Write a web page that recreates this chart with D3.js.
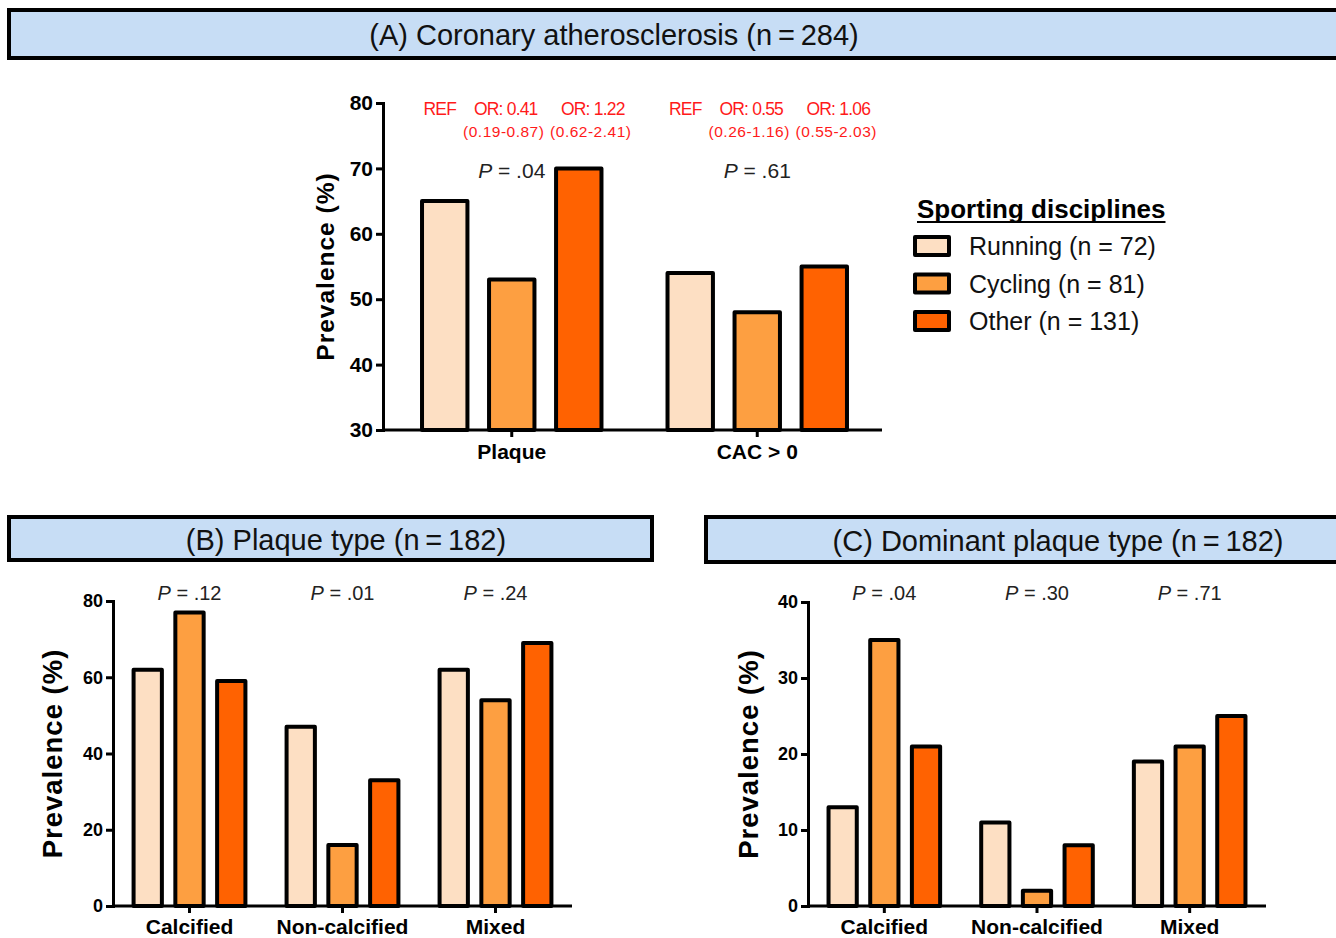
<!DOCTYPE html>
<html>
<head>
<meta charset="utf-8">
<script src="https://cdn.jsdelivr.net/npm/d3@7/dist/d3.min.js"></script>
<style>
  html, body { margin: 0; padding: 0; background: #fff; }
  svg { display: block; font-family: "Liberation Sans", Arial, sans-serif; }
</style>
</head>
<body>
<svg id="chart" width="1336" height="938"></svg>
<script>
// ---- Data ----
const seriesNames = ["Running", "Cycling", "Other"];
const legendLabels = ["Running (n = 72)", "Cycling (n = 81)", "Other (n = 131)"];
const seriesColors = ["#fddfc3", "#fd9f41", "#ff6201"];

// (A) Coronary atherosclerosis
const categoriesA = ["Plaque", "CAC > 0"];
const runningA = [65, 54];
const cyclingA = [53, 48];
const otherA = [70, 55];
const pValuesA = [".04", ".61"];
const oddsRatiosA = [["REF", "OR: 0.41", "OR: 1.22"], ["REF", "OR: 0.55", "OR: 1.06"]];
const confIntervalsA = [["", "(0.19-0.87)", "(0.62-2.41)"], ["", "(0.26-1.16)", "(0.55-2.03)"]];
const ticksA = [30, 40, 50, 60, 70, 80];

// (B) Plaque type
const categoriesB = ["Calcified", "Non-calcified", "Mixed"];
const runningB = [62, 47, 62];
const cyclingB = [77, 16, 54];
const otherB = [59, 33, 69];
const pValuesB = [".12", ".01", ".24"];
const ticksB = [0, 20, 40, 60, 80];

// (C) Dominant plaque type
const categoriesC = ["Calcified", "Non-calcified", "Mixed"];
const runningC = [13, 11, 19];
const cyclingC = [35, 2, 21];
const otherC = [21, 8, 25];
const pValuesC = [".04", ".30", ".71"];
const ticksC = [0, 10, 20, 30, 40];

const titleA = "(A) Coronary atherosclerosis (n\u2009=\u2009284)";
const titleB = "(B) Plaque type (n\u2009=\u2009182)";
const titleC = "(C) Dominant plaque type (n\u2009=\u2009182)";

// ---- Drawing ----
const svg = d3.select("#chart");

function header(x, y, w, h, text, textX, size) {
  const g = svg.append("g");
  g.append("rect").attr("x", x).attr("y", y).attr("width", w).attr("height", h)
    .attr("fill", "#c7ddf5").attr("stroke", "#000").attr("stroke-width", 4);
  g.append("text").attr("x", textX).attr("y", y + h / 2 + 1)
    .attr("text-anchor", "middle").attr("dominant-baseline", "central")
    .attr("font-size", size).attr("fill", "#111").text(text);
}

function panel(cfg) {
  const g = svg.append("g");
  const bandStart = cfg.bandStart ?? cfg.x0;
  const bandEnd = cfg.bandEnd ?? cfg.x1;
  const x = d3.scaleBand().domain(cfg.categories).range([bandStart, bandEnd]);
  const y = d3.scaleLinear().domain(cfg.domain).range([cfg.yBottom, cfg.yTop]);
  const step = x.bandwidth() * 0.273;
  const barW = x.bandwidth() * 0.185;
  const series = [cfg.running, cfg.cycling, cfg.other];

  // bars
  series.forEach((vals, si) => {
    g.selectAll(null).data(cfg.categories).enter().append("rect")
      .attr("x", (c) => x(c) + x.bandwidth() / 2 + (si - 1) * step - barW / 2)
      .attr("width", barW)
      .attr("y", (c, i) => y(vals[i]))
      .attr("height", (c, i) => y(cfg.domain[0]) - y(vals[i]))
      .attr("fill", seriesColors[si])
      .attr("stroke", "#000").attr("stroke-width", 4).attr("stroke-linejoin", "round");
  });

  // y axis
  const ya = g.append("g").attr("transform", `translate(${cfg.x0},0)`)
    .call(d3.axisLeft(y).tickValues(cfg.ticks).tickSize(7).tickSizeOuter(0).tickPadding(3));
  ya.select(".domain").attr("stroke-width", 3).attr("stroke-linecap", "square");
  ya.selectAll(".tick line").attr("stroke-width", 3);
  ya.selectAll(".tick text").attr("font-size", cfg.tickFont).attr("font-weight", "bold")
    .attr("fill", "#000").attr("font-family", "Liberation Sans, Arial, sans-serif");

  // x axis (baseline spans the full plot width)
  const xa = g.append("g").attr("transform", `translate(0,${cfg.yBottom})`)
    .call(d3.axisBottom(x).tickSize(7).tickSizeOuter(0).tickPadding(cfg.xPad));
  xa.select(".domain").remove();
  xa.append("line").attr("x1", cfg.x0).attr("x2", cfg.x1).attr("y1", 0).attr("y2", 0)
    .attr("stroke", "#000").attr("stroke-width", 3);
  xa.selectAll(".tick line").attr("stroke-width", 3);
  xa.selectAll(".tick text").attr("font-size", cfg.catFont).attr("font-weight", "bold")
    .attr("fill", "#000").attr("font-family", "Liberation Sans, Arial, sans-serif");

  // y axis title
  g.append("text")
    .attr("transform", `translate(${cfg.labelX},${(cfg.yTop + cfg.yBottom) / 2}) rotate(-90)`)
    .attr("text-anchor", "middle").attr("dominant-baseline", "central")
    .attr("font-size", cfg.labelFont).attr("font-weight", "bold").attr("letter-spacing", 1)
    .text("Prevalence (%)");

  // P values
  cfg.pValues.forEach((p, i) => {
    const t = g.append("text")
      .attr("x", x(cfg.categories[i]) + x.bandwidth() / 2 + cfg.pShift)
      .attr("y", cfg.pY).attr("text-anchor", "middle").attr("dominant-baseline", "central")
      .attr("font-size", cfg.pFont).attr("fill", "#222");
    t.append("tspan").attr("font-style", "italic").text("P");
    t.append("tspan").text(" = " + p);
  });

  return { x, step };
}

header(9, 10, 1340, 48, titleA, 614, 29);
header(9, 517, 643, 43, titleB, 346, 29);
header(706, 517, 640, 45, titleC, 1058, 29);

const pa = panel({
  categories: categoriesA, running: runningA, cycling: cyclingA, other: otherA,
  domain: [30, 80], ticks: ticksA, x0: 383, x1: 882, bandStart: 389, bandEnd: 880,
  yTop: 103, yBottom: 430,
  tickFont: 21, catFont: 21, xPad: 7, labelX: 325, labelFont: 24.5,
  pValues: pValuesA, pY: 170, pFont: 21, pShift: 0
});

// odds ratios above panel A bars
const orNudge = [-5, -6, 14];
categoriesA.forEach((c, ci) => {
  [0, 1, 2].forEach((si) => {
    const cx = pa.x(c) + pa.x.bandwidth() / 2 + (si - 1) * pa.step + orNudge[si];
    svg.append("text").attr("x", cx).attr("y", 109)
      .attr("text-anchor", "middle").attr("dominant-baseline", "central")
      .attr("font-size", 17.5).attr("letter-spacing", -0.8).attr("fill", "#ff1a1a")
      .text(oddsRatiosA[ci][si]);
    if (confIntervalsA[ci][si]) {
      svg.append("text").attr("x", cx - 2).attr("y", 131)
        .attr("text-anchor", "middle").attr("dominant-baseline", "central")
        .attr("font-size", 15.5).attr("letter-spacing", 0.5).attr("fill", "#ff1a1a")
        .text(confIntervalsA[ci][si]);
    }
  });
});

panel({
  categories: categoriesB, running: runningB, cycling: cyclingB, other: otherB,
  domain: [0, 80], ticks: ticksB, x0: 113, x1: 572, yTop: 601, yBottom: 906,
  tickFont: 18, catFont: 21, xPad: 6, labelX: 52, labelFont: 27.5,
  pValues: pValuesB, pY: 593, pFont: 20, pShift: 0
});

panel({
  categories: categoriesC, running: runningC, cycling: cyclingC, other: otherC,
  domain: [0, 40], ticks: ticksC, x0: 808, x1: 1266, yTop: 602, yBottom: 906,
  tickFont: 18, catFont: 21, xPad: 6, labelX: 748, labelFont: 27.5,
  pValues: pValuesC, pY: 593, pFont: 20, pShift: 0
});

// legend
const lg = svg.append("g");
const lt = lg.append("text").attr("x", 917).attr("y", 209)
  .attr("dominant-baseline", "central").attr("font-size", 26).attr("font-weight", "bold")
  .text("Sporting disciplines");
const tw = lt.node().getComputedTextLength();
lg.append("line").attr("x1", 917).attr("x2", 917 + tw).attr("y1", 222).attr("y2", 222)
  .attr("stroke", "#000").attr("stroke-width", 2);
legendLabels.forEach((lab, i) => {
  const cy = 246 + i * 37.5;
  lg.append("rect").attr("x", 915).attr("y", cy - 9).attr("width", 34).attr("height", 18)
    .attr("fill", seriesColors[i]).attr("stroke", "#000").attr("stroke-width", 4)
    .attr("stroke-linejoin", "round");
  lg.append("text").attr("x", 969).attr("y", cy).attr("dominant-baseline", "central")
    .attr("font-size", 25).attr("fill", "#111").text(lab);
});
</script>
</body>
</html>
